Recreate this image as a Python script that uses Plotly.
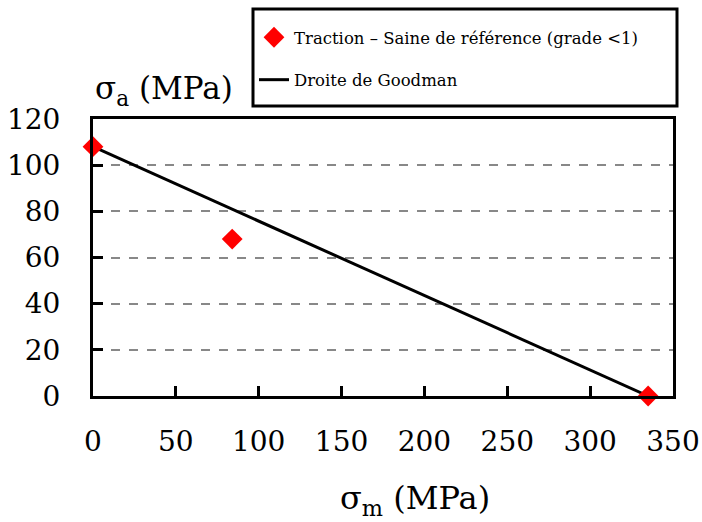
import plotly.graph_objects as go

# Data
sigma_m_points = [0, 84, 335]
sigma_a_points = [108, 68, 0]
goodman_x = [0, 335]
goodman_y = [108, 0]
x_ticks = [0, 50, 100, 150, 200, 250, 300, 350]
y_ticks = [0, 20, 40, 60, 80, 100, 120]
name_points = "Traction – Saine de référence (grade <1)"
name_line = "Droite de Goodman"

FONT = "DejaVu Serif"

fig = go.Figure()
fig.add_trace(go.Scatter(
    x=goodman_x, y=goodman_y, mode="lines", name=name_line,
    line=dict(color="black", width=3), legendgroup="b", legendrank=2,
    cliponaxis=False,
))
fig.add_trace(go.Scatter(
    x=sigma_m_points, y=sigma_a_points, mode="markers", name=name_points,
    marker=dict(symbol="diamond", color="#ff0000", size=16, line=dict(width=0)),
    legendgroup="a", legendrank=1, cliponaxis=False,
))

W, H = 702, 522
L, R, T, B = 93, 29, 119, 126
pw, ph = W - L - R, H - T - B

def px(xp):
    return (xp - L) / pw

def py(yp):
    return (H - B - yp) / ph

fig.update_layout(
    width=W, height=H,
    margin=dict(l=L, r=R, t=T, b=B, autoexpand=False),
    paper_bgcolor="white", plot_bgcolor="white",
    font=dict(family=FONT, color="black"),
    showlegend=True,
    legend=dict(
        x=px(254), y=py(20), xanchor="left", yanchor="top",
        bgcolor="rgba(0,0,0,0)", borderwidth=0,
        font=dict(family=FONT, size=16.5, color="black"),
        tracegroupgap=18, traceorder="grouped",
    ),
    xaxis=dict(
        range=[0, 350], tickvals=x_ticks, ticks="inside", ticklen=10, tickwidth=3,
        tickcolor="black", showline=True, linewidth=3, linecolor="black", mirror=True,
        showgrid=False, zeroline=False, automargin=False,
        tickfont=dict(family=FONT, size=28, color="black"), ticklabelstandoff=18,
    ),
    yaxis=dict(
        range=[0, 120], tickvals=y_ticks, ticks="inside", ticklen=10, tickwidth=3,
        tickcolor="black", showline=True, linewidth=3, linecolor="black", mirror=True,
        showgrid=True, gridcolor="#888888", gridwidth=2, griddash="dash", zeroline=False,
        automargin=False,
        tickfont=dict(family=FONT, size=28, color="black"), ticklabelstandoff=24,
    ),
    shapes=[dict(
        type="rect", xref="paper", yref="paper",
        x0=px(253), x1=px(677), y0=py(106), y1=py(9),
        line=dict(color="black", width=3), fillcolor="rgba(0,0,0,0)",
    )],
    annotations=[
        dict(text="σ<sub>a</sub> (MPa)", xref="paper", yref="paper",
             x=px(93), y=py(90), xanchor="left", yanchor="middle", showarrow=False,
             font=dict(family=FONT, size=31, color="black")),
        dict(text="σ<sub>m</sub> (MPa)", xref="paper", yref="paper",
             x=px(415), y=py(500), xanchor="center", yanchor="middle", showarrow=False,
             font=dict(family=FONT, size=32, color="black")),
    ],
)

fig.write_html("out.html", config={"displayModeBar": False},
               post_script="document.body.style.margin='0';")
